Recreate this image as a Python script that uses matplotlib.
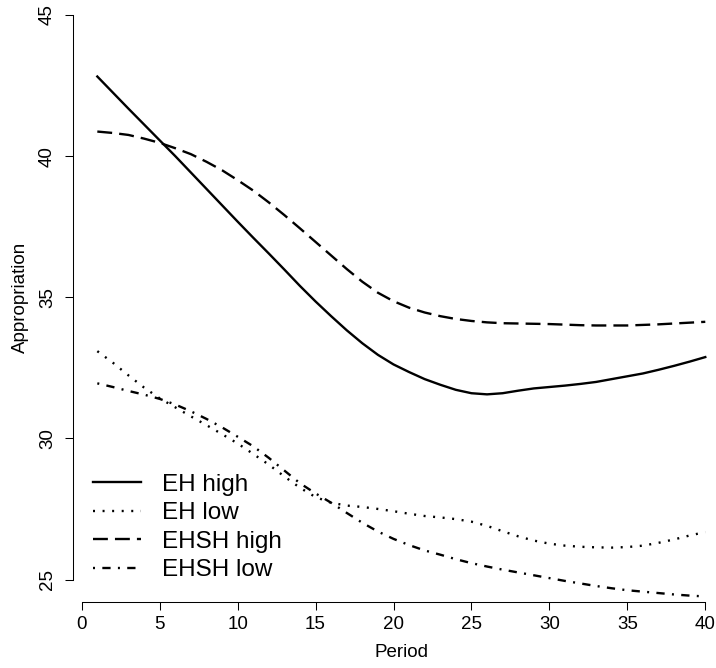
import numpy as np
import matplotlib
matplotlib.use('Agg')
import matplotlib.pyplot as plt

plt.rcParams['font.family'] = ['Liberation Sans', 'DejaVu Sans']

period = np.arange(1, 41)

eh_high = [42.82, 42.25, 41.68, 41.12, 40.56, 40.00, 39.42, 38.84, 38.26, 37.68,
           37.11, 36.55, 35.98, 35.40, 34.85, 34.33, 33.83, 33.37, 32.96, 32.62,
           32.35, 32.10, 31.90, 31.72, 31.60, 31.56, 31.60, 31.69, 31.77, 31.82,
           31.87, 31.93, 32.00, 32.10, 32.20, 32.30, 32.43, 32.57, 32.72, 32.88]

eh_low = [33.09, 32.68, 32.23, 31.80, 31.42, 31.10, 30.78, 30.47, 30.15, 29.82,
          29.45, 29.07, 28.65, 28.25, 27.92, 27.72, 27.62, 27.57, 27.50, 27.42,
          27.33, 27.25, 27.20, 27.14, 27.05, 26.90, 26.71, 26.53, 26.38, 26.27,
          26.20, 26.16, 26.14, 26.13, 26.15, 26.20, 26.30, 26.42, 26.56, 26.68]

ehsh_high = [40.87, 40.82, 40.75, 40.62, 40.47, 40.28, 40.07, 39.80, 39.50, 39.15,
             38.78, 38.36, 37.91, 37.44, 36.96, 36.48, 36.00, 35.55, 35.16, 34.86,
             34.63, 34.46, 34.33, 34.23, 34.16, 34.11, 34.08, 34.07, 34.06, 34.05,
             34.03, 34.01, 34.00, 34.00, 34.00, 34.02, 34.04, 34.07, 34.10, 34.13]

ehsh_low = [31.95, 31.82, 31.68, 31.55, 31.40, 31.20, 30.96, 30.69, 30.39, 30.06,
            29.72, 29.31, 28.86, 28.41, 28.05, 27.72, 27.36, 27.01, 26.70, 26.44,
            26.22, 26.03, 25.88, 25.72, 25.58, 25.46, 25.35, 25.25, 25.15, 25.05,
            24.95, 24.86, 24.77, 24.69, 24.62, 24.57, 24.52, 24.47, 24.43, 24.40]

labels = ['EH high', 'EH low', 'EHSH high', 'EHSH low']
x_ticks = [0, 5, 10, 15, 20, 25, 30, 35, 40]
y_ticks = [25, 30, 35, 40, 45]

W, H = 716, 668
fig = plt.figure(figsize=(W / 100, H / 100), dpi=100)
# plot region in pixels (R style, 4% padding around data range)
left, right, top, bottom = 73.0, 729.6, -7.6, 602.1
ax = fig.add_axes([left / W, (H - bottom) / H, (right - left) / W, (bottom - top) / H])

lw = 1.7
ax.plot(period, eh_high, color='black', lw=lw, ls='-', label=labels[0])
ax.plot(period, eh_low, color='black', lw=lw, ls=(0, (0.85, 3.2)), label=labels[1])
ax.plot(period, ehsh_high, color='black', lw=lw, ls=(0, (6.3, 3.0)), label=labels[2])
ax.plot(period, ehsh_low, color='black', lw=lw, ls=(0, (0.85, 3.1, 3.5, 3.1)), label=labels[3])

ax.set_xlim(-0.56, 41.56)
ax.set_ylim(24.2, 45.8)
ax.set_xticks(x_ticks)
ax.set_yticks(y_ticks)
ax.set_yticklabels([str(v) for v in y_ticks], rotation=90, va='center')

for s in ['top', 'right']:
    ax.spines[s].set_visible(False)
ax.spines['bottom'].set_bounds(0, 40)
ax.spines['left'].set_bounds(25, 45)
for s in ['bottom', 'left']:
    ax.spines[s].set_linewidth(0.75)
    ax.spines[s].set_color('black')

ax.tick_params(axis='both', direction='out', length=5.8, width=0.75, labelsize=13.5, colors='black')
ax.tick_params(axis='x', pad=4.5)
ax.tick_params(axis='y', pad=6.5)

ax.set_xlabel('Period', fontsize=13.5)
ax.set_ylabel('Appropriation', fontsize=13.5)
ax.xaxis.set_label_coords(0.5, -0.068)
ax.yaxis.set_label_coords((29 - left) / (right - left), 0.5)

leg = ax.legend(loc='upper left', bbox_to_anchor=(93.3 / W, (H - 473.5) / H),
                bbox_transform=fig.transFigure, frameon=False, fontsize=17.5,
                handlelength=1.96, handletextpad=0.85, labelspacing=0.27,
                borderpad=0, borderaxespad=0)

fig.savefig('out.png', dpi=100)
